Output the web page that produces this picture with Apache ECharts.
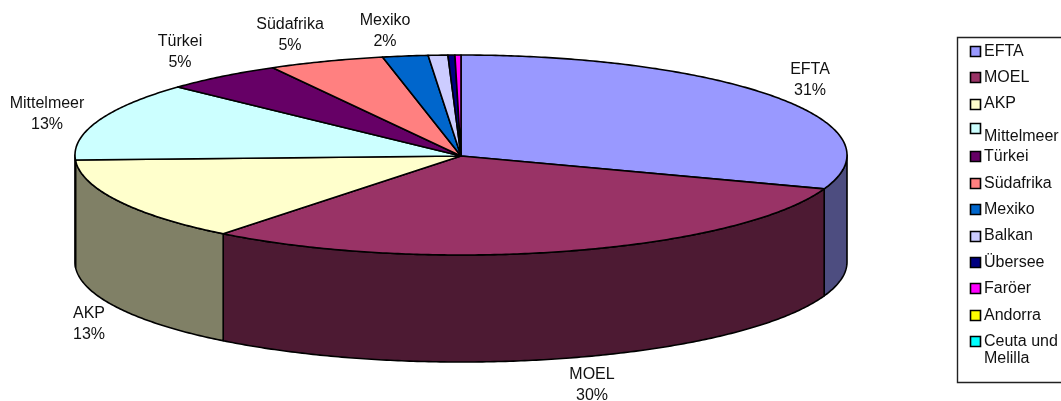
<!DOCTYPE html>
<html><head><meta charset="utf-8">
<script src="https://cdn.jsdelivr.net/npm/echarts@6/dist/echarts.min.js"></script>
<style>html,body{margin:0;padding:0;background:#fff}#c{width:1061px;height:401px}</style>
</head><body><div id="c"></div>
<script>
const categories = ['EFTA','MOEL','AKP','Mittelmeer','Türkei','Südafrika','Mexiko','Balkan','Übersee','Faröer','Andorra','Ceuta und\nMelilla'];
const shares = [30.5,30.07,13.63,12.7,5.0,4.85,1.9,0.82,0.29,0.25,0,0];
const percentLabels = ['31%','30%','13%','13%','5%','5%','2%',null,null,null,null,null];
const colors = ['#9999FF','#993366','#FFFFCC','#CCFFFF','#660066','#FF8080','#0066CC','#CCCCFF','#000080','#FF00FF','#FFFF00','#00FFFF'];
const wallColors = ['#4D4D80','#4D1A33','#808066','#668080','#330033','#804040','#003366','#666680','#000040','#800080','#808000','#008080'];

// layout only
const PIE = {cx:461, cy:155, rx:386, ry:100, depth:107};
const labelAnchors = [[810,80],[592,385],[89,324],[47,114],[180,52],[290,35],[385,31]];
const LEGEND = {x:957, y:37, w:108, h:345, swatchX:970, textX:984, firstY:50.7, step:26.4, size:10};
const legendTextShift = {3:6.5, 11:8.5};
const legendSwatchShift = {3:-2};
const FONT = 'Liberation Sans, Arial, sans-serif';
const FS = 16;

const total = shares.reduce((a,b)=>a+b,0);
const starts = shares.map((_,i)=>shares.slice(0,i).reduce((a,b)=>a+b,0));
const toAngle = s => s/total*2*Math.PI;
const pt = (a,dz) => [PIE.cx+PIE.rx*Math.sin(a), PIE.cy-PIE.ry*Math.cos(a)+(dz||0)];
function arc(a0,a1,dz){
  const n=Math.max(2,Math.ceil((a1-a0)/0.01)), out=[];
  for(let i=0;i<=n;i++) out.push(pt(a0+(a1-a0)*i/n,dz));
  return out;
}
const edge = {stroke:'#000',lineWidth:1.6,lineJoin:'round'};
function renderSlice(idx){
  return function(params,api){
    const v=api.value(0);
    const children=[];
    if(v>0){
      const a0=toAngle(starts[idx]), a1=toAngle(starts[idx]+v);
      const w0=Math.max(a0,Math.PI/2), w1=Math.min(a1,Math.PI*1.5);
      if(w1>w0){
        const top=arc(w0,w1,0), bot=arc(w0,w1,PIE.depth).reverse();
        children.push({type:'polygon',shape:{points:top.concat(bot)},style:Object.assign({fill:wallColors[idx]},edge)});
      }
      children.push({type:'polygon',shape:{points:[[PIE.cx,PIE.cy+1]].concat(arc(a0,a1,0))},style:Object.assign({fill:colors[idx]},edge)});
    }
    if(percentLabels[idx]&&labelAnchors[idx]){
      children.push({type:'text',z2:50,style:{text:categories[idx]+'\n'+percentLabels[idx],x:labelAnchors[idx][0],y:labelAnchors[idx][1],
        align:'center',verticalAlign:'middle',font:FS+'px '+FONT,lineHeight:20.5,fill:'#111'}});
    }
    return {type:'group',children};
  };
}
const series = categories.map((name,i)=>({
  type:'custom',name,coordinateSystem:'none',silent:true,animation:false,
  data:[[shares[i]]],renderItem:renderSlice(i),z:2
}));
const legendEls = [{type:'rect',shape:{x:LEGEND.x+.5,y:LEGEND.y+.5,width:LEGEND.w,height:LEGEND.h},style:{fill:'#fff',stroke:'#222',lineWidth:1.4}}];
categories.forEach((name,i)=>{
  const cy=LEGEND.firstY+LEGEND.step*i;
  legendEls.push({type:'rect',shape:{x:LEGEND.swatchX+.5,y:Math.round(cy+(legendSwatchShift[i]||0)-LEGEND.size/2)+.5,width:LEGEND.size,height:LEGEND.size},
    style:{fill:colors[i],stroke:'#000',lineWidth:1.6}});
  legendEls.push({type:'text',style:{text:name,x:LEGEND.textX,y:cy+(legendTextShift[i]===undefined?0.5:legendTextShift[i]),align:'left',verticalAlign:'middle',
    font:FS+'px '+FONT,lineHeight:17,fill:'#111'}});
});
const chart=echarts.init(document.getElementById('c'),null,{renderer:'canvas'});
chart.setOption({animation:false,backgroundColor:'#fff',graphic:{elements:legendEls},series});
</script></body></html>
